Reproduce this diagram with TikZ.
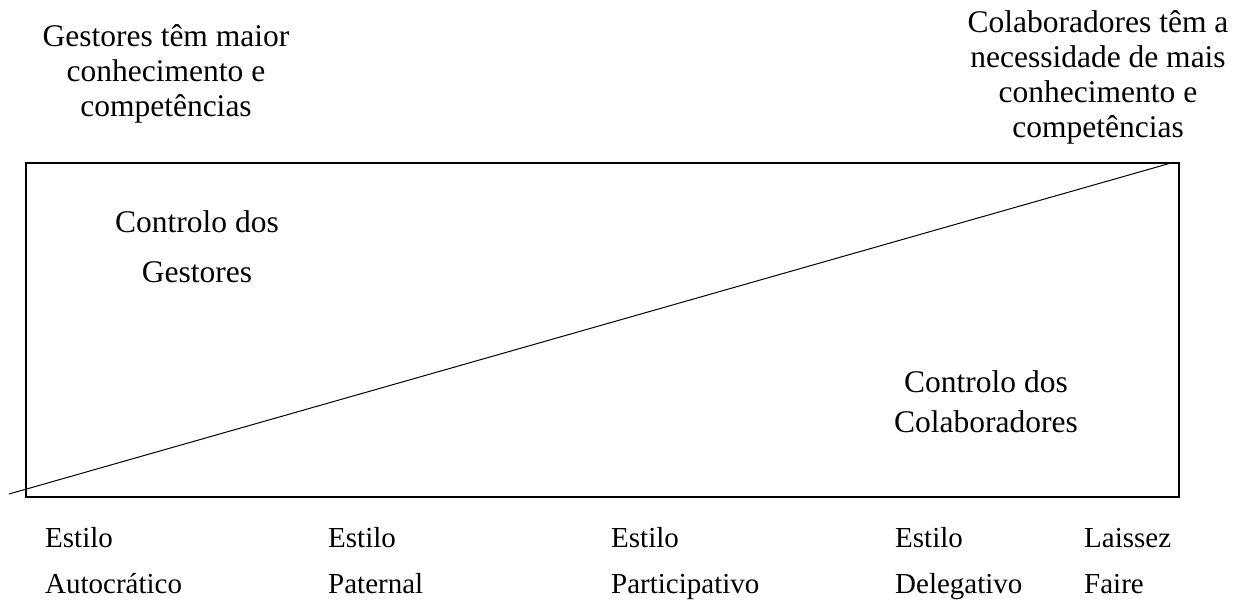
\documentclass[tikz,border=0pt]{standalone}
\usepackage{fontspec}
\setmainfont{Liberation Serif}
\usetikzlibrary{positioning}

\begin{document}
\begin{tikzpicture}[x=1pt, y=-1pt,
  topnote/.style={align=center, anchor=base, inner sep=0pt, font=\fontsize{31.5}{35.3}\selectfont},
  ctrl/.style={align=center, anchor=base, inner sep=0pt},
  estilo/.style={align=left, anchor=base west, inner sep=0pt, font=\fontsize{29}{46}\selectfont}]
  \useasboundingbox (0,0) rectangle (1244,601);

  \coordinate (SW) at (26,497);
  \coordinate (NE) at (1179,163);
  \coordinate (L0) at (9,494);
  \coordinate (L1) at (1171,163);

  \draw [line width=1.3pt] (SW) rectangle (NE);
  \draw [line width=1pt] (L0) -- (L1);

  \node (GK) [topnote] at (166,117) {Gestores têm maior\\conhecimento e\\competências};
  \node (CK) [topnote] at (1098,138) {Colaboradores têm a\\necessidade de mais\\conhecimento e\\competências};

  \node (CG) [ctrl, font=\fontsize{31.5}{50}\selectfont] at (197,283) {Controlo dos\\Gestores};
  \node (CC) [ctrl, font=\fontsize{31.5}{40}\selectfont] at (986,432) {Controlo dos\\Colaboradores};

  \node (A) [estilo] at (45,593) {Estilo\\Autocrático};
  \node (P) [estilo] at (328,593) {Estilo\\Paternal};
  \node (T) [estilo] at (611,593) {Estilo\\Participativo};
  \node (D) [estilo] at (895,593) {Estilo\\Delegativo};
  \node (L) [estilo] at (1084,593) {Laissez\\Faire};
\end{tikzpicture}
\end{document}
